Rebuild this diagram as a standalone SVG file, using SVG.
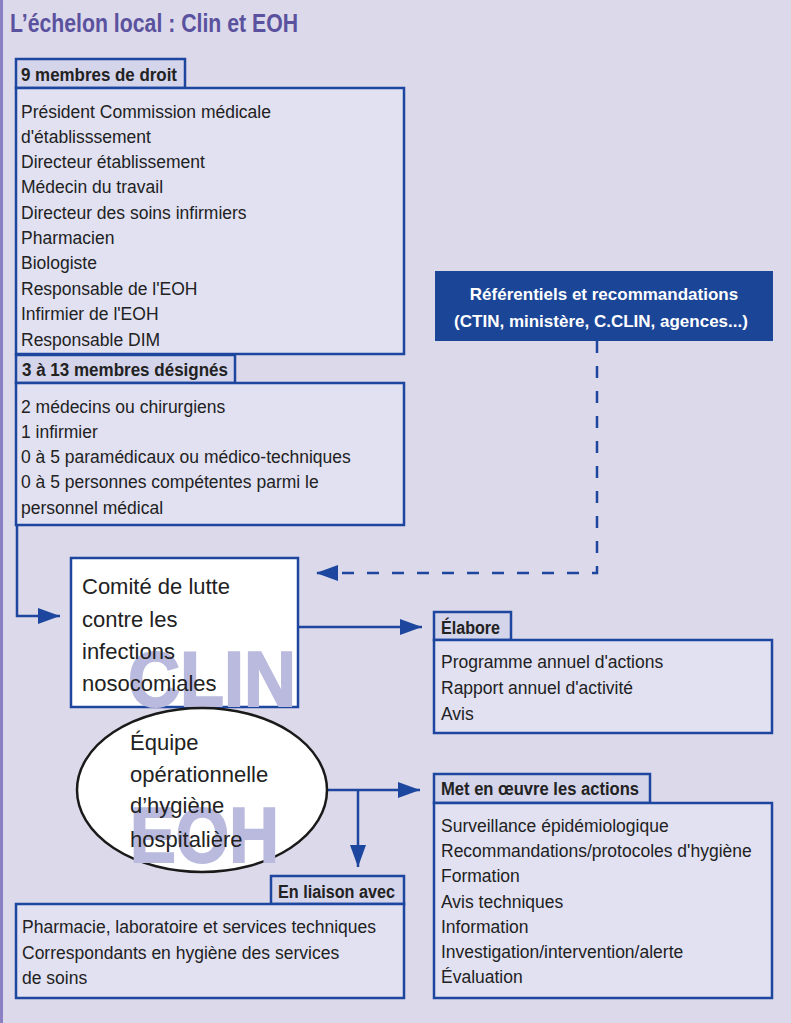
<svg xmlns="http://www.w3.org/2000/svg" width="791" height="1023" viewBox="0 0 791 1023">
<defs>
<style>
.bg{fill:#dcd9ea}
.box{fill:#e1e1f2;stroke:#1d469e;stroke-width:2.5}
.hdr{fill:#d4d4eb;stroke:#1d469e;stroke-width:2.5}
.t{font-family:"Liberation Sans",Arial,sans-serif;font-size:17.5px;fill:#222}
.h{font-family:"Liberation Sans",Arial,sans-serif;font-size:18px;font-weight:bold;fill:#222}
.big{font-family:"Liberation Sans",Arial,sans-serif;font-size:22px;fill:#222}
.wm{font-family:"Liberation Sans",Arial,sans-serif;font-size:77px;font-weight:bold;fill:#b9badd;stroke:#b9badd;stroke-width:2}
.ln{fill:none;stroke:#1d469e;stroke-width:2.5}
.dash{fill:none;stroke:#1d469e;stroke-width:2.5;stroke-dasharray:12 13}
</style>
<marker id="ah" viewBox="0 0 22 16" refX="22" refY="8" markerWidth="22" markerHeight="16" markerUnits="userSpaceOnUse" orient="auto">
<path d="M0,0 L22,8 L0,16 z" fill="#1d469e"/>
</marker>
</defs>
<rect class="bg" x="0" y="0" width="791" height="1023"/>
<line x1="1.5" y1="0" x2="1.5" y2="1023" stroke="#8a80c4" stroke-width="3"/>
<text x="10" y="32" font-family="'Liberation Sans',Arial,sans-serif" font-size="26" font-weight="bold" fill="#5a529e" textLength="288" lengthAdjust="spacingAndGlyphs">L’échelon local : Clin et EOH</text>

<g id="connectors">
<polyline class="ln" points="17,525 17,616 60,616" marker-end="url(#ah)"/>
<line class="ln" x1="298" y1="627" x2="422" y2="627" marker-end="url(#ah)"/>
<polyline class="dash" points="597,341 597,573 316,573" marker-end="url(#ah)"/>
<line class="ln" x1="327" y1="790" x2="420" y2="790" marker-end="url(#ah)"/>
<line class="ln" x1="358" y1="790" x2="358" y2="867" marker-end="url(#ah)"/>
</g>

<g id="membres-droit">
<rect class="hdr" x="16" y="59" width="169" height="29"/>
<rect class="box" x="16" y="88" width="388" height="266"/>
<text class="h" x="21" y="81" textLength="156" lengthAdjust="spacingAndGlyphs">9 membres de droit</text>
<text class="t" x="21" y="118">Président Commission médicale</text>
<text class="t" x="21" y="143">d'établisssement</text>
<text class="t" x="21" y="168">Directeur établissement</text>
<text class="t" x="21" y="193">Médecin du travail</text>
<text class="t" x="21" y="219">Directeur des soins infirmiers</text>
<text class="t" x="21" y="244">Pharmacien</text>
<text class="t" x="21" y="269">Biologiste</text>
<text class="t" x="21" y="295">Responsable de l'EOH</text>
<text class="t" x="21" y="320">Infirmier de l'EOH</text>
<text class="t" x="21" y="346">Responsable DIM</text>
</g>

<g id="membres-designes">
<rect class="hdr" x="16" y="355" width="219" height="28"/>
<rect class="box" x="16" y="383" width="388" height="142"/>
<text class="h" x="22" y="376" textLength="206" lengthAdjust="spacingAndGlyphs">3 à 13 membres désignés</text>
<text class="t" x="21" y="413">2 médecins ou chirurgiens</text>
<text class="t" x="21" y="438">1 infirmier</text>
<text class="t" x="21" y="463">0 à 5 paramédicaux ou médico-techniques</text>
<text class="t" x="21" y="488">0 à 5 personnes compétentes parmi le</text>
<text class="t" x="21" y="514">personnel médical</text>
</g>

<g id="referentiels">
<rect x="435" y="271" width="338" height="70" fill="#1b4597"/>
<text x="604" y="300" text-anchor="middle" font-family="'Liberation Sans',Arial,sans-serif" font-size="17" font-weight="bold" fill="#ffffff">Référentiels et recommandations</text>
<text x="601" y="327" text-anchor="middle" font-family="'Liberation Sans',Arial,sans-serif" font-size="17" font-weight="bold" fill="#ffffff">(CTIN, ministère, C.CLIN, agences...)</text>
</g>

<g id="clin">
<rect x="71" y="558" width="227" height="149" fill="#ffffff" stroke="#1d469e" stroke-width="2.5"/>
<text class="wm" x="128" y="706" textLength="168" lengthAdjust="spacingAndGlyphs">CLIN</text>
<text class="big" x="82" y="594">Comité de lutte</text>
<text class="big" x="82" y="627">contre les</text>
<text class="big" x="82" y="659">infections</text>
<text class="big" x="82" y="691">nosocomiales</text>
</g>

<g id="eoh">
<ellipse cx="202" cy="790" rx="125" ry="82" fill="#ffffff" stroke="#1a1a1a" stroke-width="2.5"/>
<text class="wm" x="130" y="862" textLength="149" lengthAdjust="spacingAndGlyphs">EOH</text>
<text class="big" x="130" y="750">Équipe</text>
<text class="big" x="130" y="782">opérationnelle</text>
<text class="big" x="130" y="813">d’hygiène</text>
<text class="big" x="130" y="847">hospitalière</text>
</g>

<g id="elabore">
<rect class="hdr" x="434" y="612" width="77" height="28"/>
<rect class="box" x="434" y="640" width="338" height="93"/>
<text class="h" x="441" y="634" textLength="59" lengthAdjust="spacingAndGlyphs">Élabore</text>
<text class="t" x="441" y="668">Programme annuel d'actions</text>
<text class="t" x="441" y="694">Rapport annuel d'activité</text>
<text class="t" x="441" y="720">Avis</text>
</g>

<g id="met-en-oeuvre">
<rect class="hdr" x="434" y="774" width="216" height="29"/>
<rect class="box" x="434" y="803" width="338" height="195"/>
<text class="h" x="441" y="795" textLength="198" lengthAdjust="spacingAndGlyphs">Met en œuvre les actions</text>
<text class="t" x="441" y="832">Surveillance épidémiologique</text>
<text class="t" x="441" y="857">Recommandations/protocoles d'hygiène</text>
<text class="t" x="441" y="882">Formation</text>
<text class="t" x="441" y="908">Avis techniques</text>
<text class="t" x="441" y="933">Information</text>
<text class="t" x="441" y="958">Investigation/intervention/alerte</text>
<text class="t" x="441" y="983">Évaluation</text>
</g>

<g id="liaison">
<rect class="hdr" x="271" y="876" width="133" height="28"/>
<rect class="box" x="16" y="904" width="388" height="94"/>
<text class="h" x="278" y="898" textLength="117" lengthAdjust="spacingAndGlyphs">En liaison avec</text>
<text class="t" x="22" y="933">Pharmacie, laboratoire et services techniques</text>
<text class="t" x="22" y="959">Correspondants en hygiène des services</text>
<text class="t" x="22" y="984">de soins</text>
</g>
</svg>
